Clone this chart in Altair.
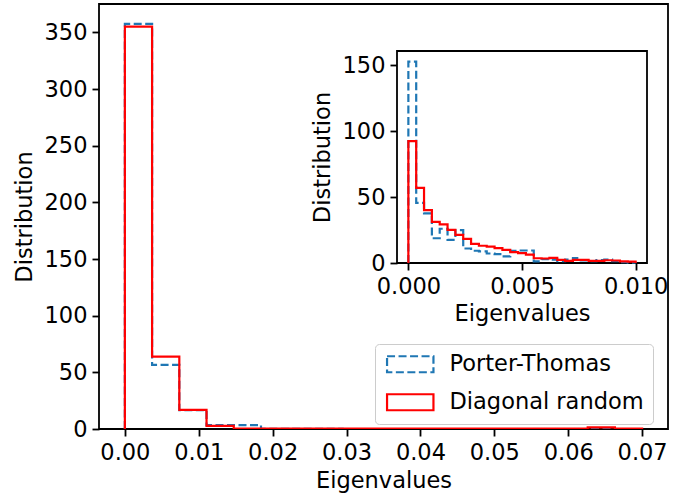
import altair as alt
import pandas as pd

# ---------------- data ----------------
series_names = ["Porter-Thomas", "Diagonal random"]
series_colors = ["#1f77b4", "#ff0000"]

# main histogram: 19 equal bins on [0, 0.07]
main_xmax = 0.07
main_pt = [357.5, 56.5, 16.6, 3.5, 3.5, 0.2, 0.1, 0.1, 0, 0, 0, 0, 0, 0, 0, 0, 0, 0, 0]
main_dr = [355.0, 63.8, 16.8, 2.7, 0.4, 0.3, 0.3, 0.3, 0.3, 0.3, 0.3, 0.3, 0.3, 0.3,
           0.3, 0.3, 0.3, 1.5, 0.3]

# inset histogram: 29 equal bins on [0, 0.01]
inset_xmax = 0.01
inset_pt = [153.0, 45.7, 37.7, 18.8, 26.0, 17.6, 25.0, 11.0, 9.3, 8.8, 7.2, 6.8, 5.0,
            9.2, 9.5, 9.5, 1.2, 3.0, 2.5, 1.5, 2.5, 3.8, 2.0, 1.5, 2.2, 2.5, 1.5, 0.6, 0.2]
inset_dr = [92.5, 57.0, 40.2, 31.2, 29.4, 25.1, 21.4, 18.3, 14.6, 13.1, 12.4, 11.3, 10.0,
            8.3, 7.5, 6.3, 3.6, 3.4, 3.9, 2.3, 1.6, 2.3, 2.3, 1.6, 1.6, 2.1, 1.9, 1.2, 1.0]

main_xticks = [0.0, 0.01, 0.02, 0.03, 0.04, 0.05, 0.06, 0.07]
main_yticks = [0, 50, 100, 150, 200, 250, 300, 350]
inset_xticks = [0.0, 0.005, 0.01]
inset_yticks = [0, 50, 100, 150]


def step_frame(values, xmax, name):
    n = len(values)
    w = xmax / n
    xs, ys = [0.0], [0.0]
    for k, v in enumerate(values):
        xs += [k * w, (k + 1) * w]
        ys += [v, v]
    xs.append(xmax)
    ys.append(0.0)
    return pd.DataFrame({"x": xs, "y": ys, "i": list(range(len(xs))), "series": name})


FONT = "DejaVu Sans"
FS = 22.5
LW = 2.2
FRAME_W = 1.8
DASH = [8, 3.5]

# ---------------- main axes ----------------
mx = alt.Scale(domain=[-0.0035, 0.0735], nice=False, zero=False)
my = alt.Scale(domain=[0, 375], nice=False, zero=False)
color_scale = alt.Scale(domain=series_names, range=series_colors)
dash_scale = alt.Scale(domain=series_names, range=[DASH, [1, 0]])

axis_common = dict(domain=False, grid=False, tickSize=7, tickWidth=FRAME_W, tickColor="black",
                   labelFontSize=FS, labelFont=FONT, labelColor="black",
                   titleFontSize=FS, titleFont=FONT, titleFontWeight="normal", titleColor="black",
                   labelPadding=5)

legend = alt.Legend(
    title=None, orient="none", legendX=276, legendY=340,
    labelFontSize=FS, labelFont=FONT, labelColor="black", labelLimit=400,
    symbolType="M-2.9,-1L2.9,-1L2.9,1L-2.9,1Z", symbolSize=256,
    symbolStrokeWidth=LW, symbolFillColor="transparent",
    symbolOffset=15, labelOffset=28, rowPadding=12,
    padding=9, strokeColor="#cccccc", fillColor="white", cornerRadius=4,
)


def main_line(values, name):
    df = step_frame(values, main_xmax, name)
    return alt.Chart(df).mark_line(strokeWidth=LW, clip=True).encode(
        x=alt.X("x:Q", scale=mx, axis=alt.Axis(values=main_xticks, format=".2f",
                                               title="Eigenvalues", titlePadding=6, **axis_common)),
        y=alt.Y("y:Q", scale=my, axis=alt.Axis(values=main_yticks, title="Distribution",
                                               titlePadding=8, **axis_common)),
        color=alt.Color("series:N", scale=color_scale, legend=legend),
        strokeDash=alt.StrokeDash("series:N", scale=dash_scale, legend=legend),
        order=alt.Order("i:Q"),
    )


main = alt.layer(main_line(main_pt, series_names[0]), main_line(main_dr, series_names[1]))

# ---------------- inset axes ----------------
ix = alt.Scale(domain=[-0.0005, 0.0105], range=[298, 548], nice=False, zero=False)
iy = alt.Scale(domain=[0, 161], range=[259, 47], nice=False, zero=False)

frame_df = pd.DataFrame({"x": [-0.0005], "x2": [0.0105], "y": [0], "y2": [161]})
frame = alt.Chart(frame_df).mark_rect(fill="white", stroke="black", strokeWidth=FRAME_W).encode(
    x=alt.X("x:Q", scale=ix, axis=alt.Axis(values=inset_xticks, format=".3f", orient="bottom",
                                           offset=-166, title="Eigenvalues", titlePadding=5,
                                           **axis_common)),
    x2="x2:Q",
    y=alt.Y("y:Q", scale=iy, axis=alt.Axis(values=inset_yticks, orient="left", offset=-298,
                                           title="Distribution", titlePadding=8, **axis_common)),
    y2="y2:Q",
)


def inset_line(values, name, color, dash):
    df = step_frame(values, inset_xmax, name)
    return alt.Chart(df).mark_line(strokeWidth=LW, color=color, strokeDash=dash).encode(
        x=alt.X("x:Q", scale=ix),
        y=alt.Y("y:Q", scale=iy),
        order=alt.Order("i:Q"),
    )


inset = alt.layer(
    frame,
    inset_line(inset_pt, series_names[0], series_colors[0], DASH),
    inset_line(inset_dr, series_names[1], series_colors[1], [1, 0]),
)

chart = alt.layer(main, inset).resolve_scale(
    x="independent", y="independent"
).properties(
    width=569, height=425,
    autosize=alt.AutoSizeParams(type="none"),
    padding={"left": 99, "top": 4, "right": 19, "bottom": 67},
    background="white",
).configure_view(stroke="black", strokeWidth=FRAME_W)

chart.save("out.html", embed_options={"renderer": "svg", "actions": False})
